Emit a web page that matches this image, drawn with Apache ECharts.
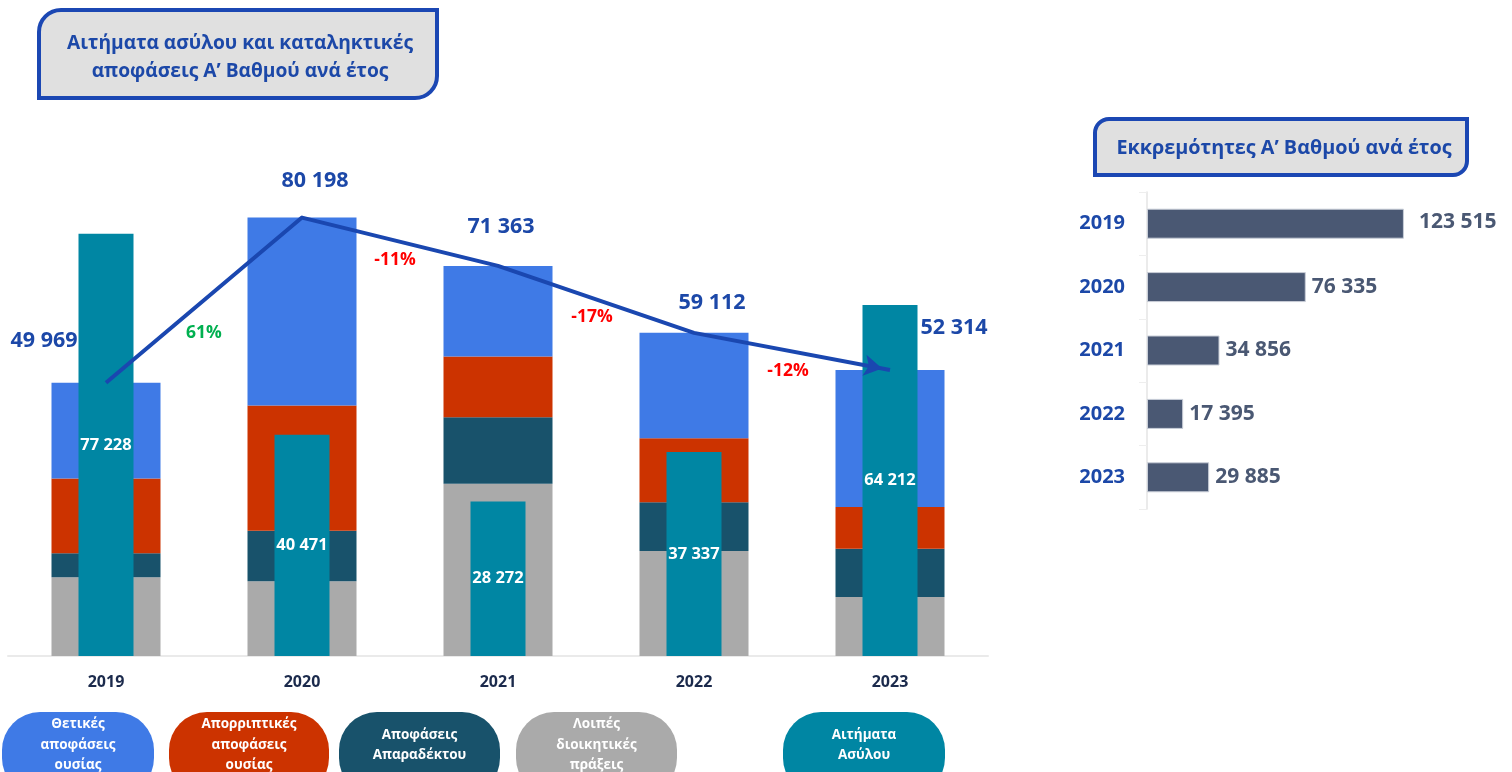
<!DOCTYPE html>
<html lang="el">
<head>
<meta charset="utf-8">
<title>Αιτήματα ασύλου και αποφάσεις Α’ Βαθμού</title>
<script src="https://cdn.jsdelivr.net/npm/echarts@6/dist/echarts.min.js"></script>
<style>
  html, body { margin: 0; padding: 0; background: #ffffff; }
  #chart { width: 1512px; height: 772px; }
</style>
</head>
<body>
<div id="chart"></div>
<script>
// ---- data ----
const years = ['2019', '2020', '2021', '2022', '2023'];
const positiveDecisions = [17519, 34388, 16593, 19272, 25044];
const rejectedDecisions = [13650, 22880, 11090, 11710, 7630];
const inadmissibleDecisions = [4400, 9260, 12150, 8910, 8840];
const otherActs = [14400, 13670, 31530, 19220, 10800];
const totalDecisions = [49969, 80198, 71363, 59112, 52314];
const asylumApplications = [77228, 40471, 28272, 37337, 64212];
const pctChange = ['61%', '-11%', '-17%', '-12%'];
const pendingCases = [123515, 76335, 34856, 17395, 29885];

const seriesNames = {
  positive: 'Θετικές αποφάσεις ουσίας',
  rejected: 'Απορριπτικές αποφάσεις ουσίας',
  inadmissible: 'Αποφάσεις Απαραδέκτου',
  other: 'Λοιπές διοικητικές πράξεις',
  applications: 'Αιτήματα Ασύλου',
  pending: 'Εκκρεμότητες'
};
const mainTitle = 'Αιτήματα ασύλου και καταληκτικές\nαποφάσεις Α’ Βαθμού ανά έτος';
const sideTitle = 'Εκκρεμότητες Α’ Βαθμού ανά έτος';

// ---- styling ----
const FONT = '"Open Sans", "Noto Sans", sans-serif';
const C = {
  positive: '#3f7ae6',
  rejected: '#cc3300',
  inadmissible: '#18526b',
  other: '#aaaaaa',
  applications: '#0086a3',
  pending: '#4a5873',
  trend: '#1a47b0',
  titleText: '#1c48a8',
  axisText: '#1b2a4c',
  up: '#00b050',
  down: '#ff0000'
};

const fmt = n => String(n).replace(/\B(?=(\d{3})+(?!\d))/g, ' ');

// label offsets for the yearly totals (beside / above each point)
const totalLabelOffsets = [[-62, -42], [13, -37], [3, -39], [18, -30], [64, -42]];
// offsets of the change labels from the midpoint of each segment
const pctLabelOffsets = [[0, 33], [-5, 18], [-4, 18], [-4, 20]];

const chart = echarts.init(document.getElementById('chart'), null, { renderer: 'canvas' });

function stackSeries(name, data, color) {
  return {
    name, type: 'bar', stack: 'decisions',
    xAxisIndex: 0, yAxisIndex: 0,
    barWidth: 109,
    itemStyle: { color },
    data,
    z: 2
  };
}

// legend pills: rounded shapes with centred text
const legendItems = [
  { text: 'Θετικές\nαποφάσεις\nουσίας', color: C.positive, x: 2, w: 152 },
  { text: 'Απορριπτικές\nαποφάσεις\nουσίας', color: C.rejected, x: 169, w: 160 },
  { text: 'Αποφάσεις\nΑπαραδέκτου', color: C.inadmissible, x: 339, w: 161 },
  { text: 'Λοιπές\nδιοικητικές\nπράξεις', color: C.other, x: 516, w: 161 },
  { text: 'Αιτήματα\nΑσύλου', color: C.applications, x: 783, w: 162 }
];
const legendGraphics = [];
legendItems.forEach(it => {
  legendGraphics.push({
    type: 'rect',
    shape: { x: it.x, y: 712, width: it.w, height: 84, r: 38 },
    style: { fill: it.color },
    silent: true
  });
  legendGraphics.push({
    type: 'text',
    x: it.x + it.w / 2, y: 745,
    style: {
      text: it.text, fill: '#ffffff',
      font: 'bold 13.5px ' + FONT,
      align: 'center', verticalAlign: 'middle',
      lineHeight: 20.5
    },
    silent: true
  });
});

const labelText = (size, color) => ({
  color, fontWeight: 'bold', fontSize: size, fontFamily: FONT
});

const option = {
  backgroundColor: '#ffffff',
  animation: false,
  textStyle: { fontFamily: FONT },
  grid: [
    { left: 8, right: 524, top: 164, bottom: 116 },
    { left: 1147, width: 312, top: 192, height: 317 }
  ],
  xAxis: [
    {
      gridIndex: 0, type: 'category', data: years,
      axisLine: { lineStyle: { color: '#eaeaea', width: 2 } },
      axisTick: { show: false },
      axisLabel: Object.assign({ margin: 18 }, labelText(16, C.axisText))
    },
    { gridIndex: 0, type: 'category', data: years, show: false },
    { gridIndex: 0, type: 'value', min: -0.5, max: 4.5, show: false },
    { gridIndex: 1, type: 'value', min: 0, max: 150000, show: false }
  ],
  yAxis: [
    { gridIndex: 0, type: 'value', min: 0, max: 90000, show: false },
    {
      gridIndex: 1, type: 'category', data: years, inverse: true,
      axisLine: { lineStyle: { color: '#e4e4e4', width: 1.5 } },
      axisTick: { show: true, length: 8, lineStyle: { color: '#eeeeee' } },
      axisLabel: Object.assign({ margin: 22 }, labelText(20, C.titleText))
    }
  ],
  series: [
    stackSeries(seriesNames.other, otherActs, C.other),
    stackSeries(seriesNames.inadmissible, inadmissibleDecisions, C.inadmissible),
    stackSeries(seriesNames.rejected, rejectedDecisions, C.rejected),
    stackSeries(seriesNames.positive, positiveDecisions, C.positive),
    {
      name: seriesNames.applications, type: 'bar',
      xAxisIndex: 1, yAxisIndex: 0,
      barWidth: 55,
      itemStyle: { color: C.applications },
      label: Object.assign({
        show: true, position: 'inside',
        formatter: p => fmt(p.value)
      }, labelText(16.5, '#ffffff')),
      data: asylumApplications,
      z: 3
    },
    {
      // trend of total decisions
      id: 'trend', name: 'Σύνολο αποφάσεων', type: 'line',
      xAxisIndex: 0, yAxisIndex: 0,
      symbol: 'none',
      lineStyle: { color: C.trend, width: 4, cap: 'butt', join: 'round' },
      data: totalDecisions,
      z: 5
    },
    {
      // arrow head at the end of the trend line
      id: 'arrowHead', type: 'scatter',
      xAxisIndex: 2, yAxisIndex: 0,
      symbol: 'arrow', symbolSize: [16, 18],
      itemStyle: { color: C.trend, opacity: 1 },
      data: [[4, totalDecisions[4]]],
      z: 6
    },
    {
      // yearly totals
      name: 'Σύνολο', type: 'scatter',
      xAxisIndex: 2, yAxisIndex: 0,
      symbolSize: 0,
      itemStyle: { opacity: 1 },
      data: totalDecisions.map((v, i) => ({
        value: [i, v],
        label: Object.assign({
          show: true, position: 'inside',
          offset: totalLabelOffsets[i],
          formatter: fmt(v)
        }, labelText(21.5, C.titleText))
      })),
      z: 6
    },
    {
      // year-over-year change
      name: 'Μεταβολή', type: 'scatter',
      xAxisIndex: 2, yAxisIndex: 0,
      symbolSize: 0,
      itemStyle: { opacity: 1 },
      data: pctChange.map((t, i) => ({
        value: [i + 0.5, (totalDecisions[i] + totalDecisions[i + 1]) / 2],
        label: Object.assign({
          show: true, position: 'inside', offset: pctLabelOffsets[i],
          formatter: t
        }, labelText(17.5, t.charAt(0) === '-' ? C.down : C.up))
      })),
      z: 6
    },
    {
      name: seriesNames.pending, type: 'bar',
      xAxisIndex: 3, yAxisIndex: 1,
      barWidth: 30,
      itemStyle: { color: C.pending, borderColor: '#c9ced8', borderWidth: 1 },
      label: Object.assign({
        show: true, position: 'right', distance: 6,
        formatter: p => fmt(p.value)
      }, labelText(21, C.pending)),
      data: pendingCases.map((v, i) => i === 0
        ? { value: v, label: { distance: 15, offset: [0, -2] } }
        : v)
    }
  ],
  graphic: [
    {
      type: 'rect',
      shape: { x: 39, y: 10, width: 398, height: 88, r: [22, 0, 22, 0] },
      style: { fill: '#e0e0e0', stroke: '#1b47b3', lineWidth: 4 },
      silent: true
    },
    {
      type: 'text', x: 240, y: 58,
      style: {
        text: mainTitle, fill: C.titleText,
        font: 'bold 19.2px ' + FONT,
        align: 'center', verticalAlign: 'middle', lineHeight: 28
      },
      silent: true
    },
    {
      type: 'rect',
      shape: { x: 1095, y: 119, width: 372, height: 56, r: [14, 0, 14, 0] },
      style: { fill: '#e0e0e0', stroke: '#1b47b3', lineWidth: 4 },
      silent: true
    },
    {
      type: 'text', x: 1284, y: 148,
      style: {
        text: sideTitle, fill: C.titleText,
        font: 'bold 19.8px ' + FONT,
        align: 'center', verticalAlign: 'middle'
      },
      silent: true
    }
  ].concat(legendGraphics)
};

chart.setOption(option);

// orient the arrow head along the last segment and put its tip on the final point
(function alignArrow() {
  const a = chart.convertToPixel({ xAxisIndex: 0, yAxisIndex: 0 }, [years[3], totalDecisions[3]]);
  const b = chart.convertToPixel({ xAxisIndex: 0, yAxisIndex: 0 }, [years[4], totalDecisions[4]]);
  const dx = b[0] - a[0], dy = b[1] - a[1];
  const len = Math.hypot(dx, dy);
  const back = 8;
  const centre = [b[0] - dx / len * back, b[1] - dy / len * back];
  const dataPos = chart.convertFromPixel({ xAxisIndex: 2, yAxisIndex: 0 }, centre);
  const rot = Math.atan2(-dy, dx) * 180 / Math.PI - 90;
  chart.setOption({
    series: [{ id: 'arrowHead', symbolRotate: rot, data: [dataPos] }]
  });
})();
</script>
</body>
</html>
